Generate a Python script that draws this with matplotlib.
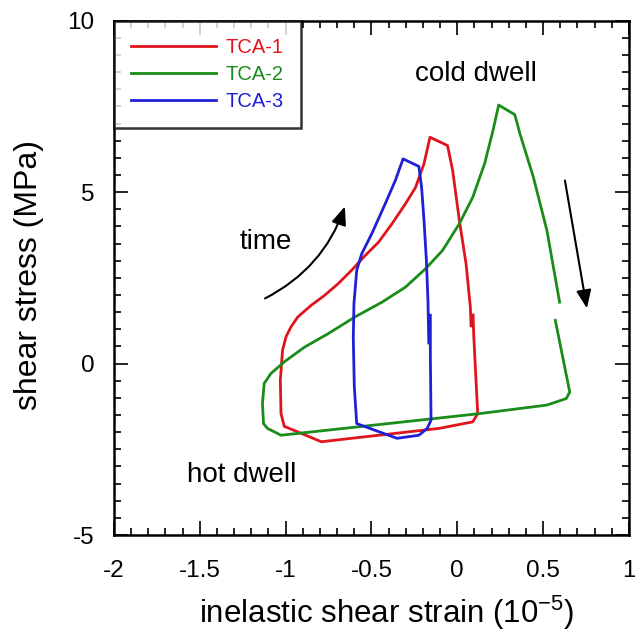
import matplotlib
matplotlib.use("Agg")
import matplotlib.pyplot as plt
from matplotlib.ticker import MultipleLocator, FuncFormatter

plt.rcParams["font.family"] = ["Liberation Sans", "DejaVu Sans"]
plt.rcParams["mathtext.fontset"] = "custom"
plt.rcParams["mathtext.rm"] = "Liberation Sans"
plt.rcParams["mathtext.default"] = "regular"
plt.rcParams["axes.unicode_minus"] = False

# hysteresis loops (strain in 1e-5, stress in MPa)
TCA1_X = [0.092, 0.095, 0.106, 0.119, 0.09, -0.106, -0.792, -1.008, -1.027, -1.031,
          -1.018, -0.998, -0.969, -0.929, -0.851, -0.773, -0.694, -0.616, -0.537,
          -0.459, -0.380, -0.302, -0.243, -0.194, -0.159, -0.057, -0.027, 0.012,
          0.051, 0.076, 0.080]
TCA1_Y = [1.42, 0.90, -0.20, -1.46, -1.70, -1.89, -2.28, -1.83, -1.46, -0.49,
          0.39, 0.78, 1.07, 1.36, 1.70, 1.99, 2.33, 2.72, 3.15,
          3.54, 4.08, 4.66, 5.14, 5.83, 6.60, 6.36, 5.63, 4.17,
          2.91, 1.65, 1.10]

TCA2_X = [0.571, 0.655, 0.635, 0.522, 0.129, -1.027, -1.106, -1.129, -1.135, -1.125,
          -1.086, -1.008, -0.890, -0.753, -0.596, -0.439, -0.302, -0.184, -0.086,
          0.012, 0.090, 0.159, 0.208, 0.241, 0.335, 0.365, 0.443, 0.522, 0.596]
TCA2_Y = [1.26, -0.83, -1.02, -1.21, -1.46, -2.09, -1.89, -1.75, -1.17, -0.58,
          -0.29, 0.05, 0.48, 0.87, 1.36, 1.79, 2.23, 2.77, 3.30,
          4.08, 4.85, 5.83, 6.80, 7.54, 7.26, 6.70, 5.44, 3.88, 1.79]

TCA3_X = [-0.157, -0.157, -0.155, -0.153, -0.175, -0.224, -0.351, -0.586, -0.600,
          -0.606, -0.602, -0.586, -0.557, -0.498, -0.420, -0.361, -0.316, -0.224,
          -0.208, -0.194, -0.180, -0.171, -0.166]
TCA3_Y = [1.41, 0.25, -0.68, -1.65, -1.89, -2.09, -2.18, -1.75, -0.68,
          0.77, 1.75, 2.72, 3.20, 3.79, 4.66, 5.34, 5.97, 5.75,
          5.14, 4.17, 3.01, 1.84, 0.60]

SERIES = [("TCA-1", TCA1_X, TCA1_Y, "#e0141c"),
          ("TCA-2", TCA2_X, TCA2_Y, "#1a8c1a"),
          ("TCA-3", TCA3_X, TCA3_Y, "#1f1fd6")]


def main():
    fig = plt.figure(figsize=(6.35, 6.33), dpi=100)
    ax = fig.add_axes([0.1795, 0.1548, 0.811, 0.8125])

    for name, xs, ys, c in SERIES:
        ax.plot(xs, ys, color=c, lw=2.0, label=name)

    ax.set_xlim(-2, 1)
    ax.set_ylim(-5, 10)
    ax.xaxis.set_major_locator(MultipleLocator(0.5))
    ax.xaxis.set_minor_locator(MultipleLocator(0.1))
    ax.yaxis.set_major_locator(MultipleLocator(5))
    ax.yaxis.set_minor_locator(MultipleLocator(0.5))
    fmt = FuncFormatter(lambda v, p: f"{v:g}")
    ax.xaxis.set_major_formatter(fmt)
    ax.yaxis.set_major_formatter(fmt)
    ax.tick_params(which="both", direction="in", top=True, right=True,
                   labelsize=17.5, width=1.2)
    ax.tick_params(axis="x", pad=18)
    ax.tick_params(axis="y", pad=14)
    ax.tick_params(which="major", length=10)
    ax.tick_params(which="minor", length=5)
    for s in ax.spines.values():
        s.set_linewidth(1.8)

    ax.set_xlabel("inelastic shear strain (10$^{-5}$)", fontsize=22.5)
    ax.set_ylabel("shear stress (MPa)", fontsize=23)
    ax.xaxis.set_label_coords(0.53, -0.115)
    ax.yaxis.set_label_coords(-0.135, 0.505)

    leg = ax.legend(loc="upper left", borderaxespad=0, fontsize=14.5, fancybox=False,
                    handlelength=4.2, handletextpad=0.5, labelspacing=0.4,
                    borderpad=0.85)
    leg.get_frame().set_edgecolor("black")
    leg.get_frame().set_linewidth(1.8)
    for t, (_, _, _, c) in zip(leg.get_texts(), SERIES):
        t.set_color(c)

    ax.text(0.108, 8.45, "cold dwell", fontsize=20, ha="center", va="center")
    ax.text(-1.114, 3.56, "time", fontsize=20, ha="center", va="center")
    ax.text(-1.254, -3.25, "hot dwell", fontsize=20, ha="center", va="center")

    head = "-|>,head_length=1.1,head_width=0.45"
    ax.annotate("", xy=(-0.655, 4.58), xytext=(-1.12, 1.90),
                arrowprops=dict(arrowstyle=head, color="black", lw=1.5,
                                shrinkA=0, shrinkB=0,
                                connectionstyle="arc3,rad=0.2"))
    ax.annotate("", xy=(0.755, 1.61), xytext=(0.627, 5.34),
                arrowprops=dict(arrowstyle=head, color="black", lw=1.5,
                                shrinkA=0, shrinkB=0))

    fig.savefig("out.png", dpi=100)


if __name__ == "__main__":
    main()
